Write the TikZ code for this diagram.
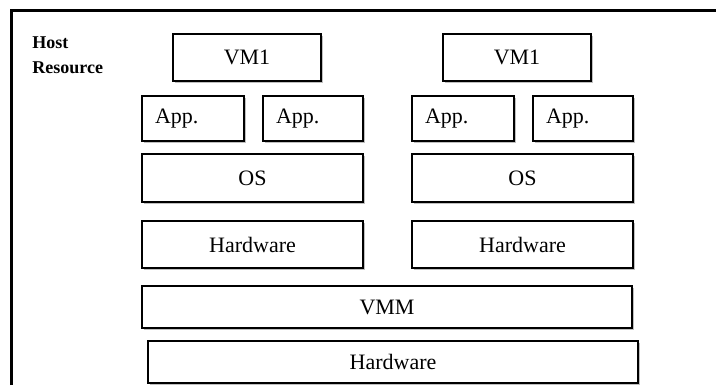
\documentclass[tikz,border=0pt]{standalone}
\usepackage{fontspec}
\setmainfont{Liberation Serif}
\usetikzlibrary{shadows}

\begin{document}
\begin{tikzpicture}[x=0.5pt, y=-0.5pt,
    layer/.style={draw, fill=white, line width=1pt, inner sep=0pt,
        font=\fontsize{11}{13}\selectfont,
        drop shadow={shadow xshift=0.8pt, shadow yshift=-0.8pt, opacity=0.25, fill=black}},
    appbox/.style={layer, text width=38pt, align=left, inner xsep=6.5pt, minimum height=22.5pt}]
    \useasboundingbox (0,0) rectangle (716,385);
    % Draw the frame
    \draw[line width=1.5pt] (11,385) -- (11,11) -- (716,11);
    \node[anchor=north west, align=left, inner sep=0pt, font=\bfseries\fontsize{9}{12.5}\selectfont] (host) at (32,36) {Host\\Resource};
    % Draw the two guest stacks
    \foreach \x [count=\i] in {142,412} {
        \node[layer, minimum width=74pt, minimum height=23.5pt] (vm\i) at (\x+105,57.5) {VM1};
        \node[appbox] (app\i a) at (\x+51,118.5) {App.};
        \node[appbox, text width=37pt] (app\i b) at (\x+171,118.5) {App.};
        \node[layer, minimum width=110.5pt, minimum height=24pt] (os\i) at (\x+110.5,178) {OS};
        \node[layer, minimum width=110.5pt, minimum height=23.5pt] (hw\i) at (\x+110.5,244.5) {Hardware};
    }
    % Add the host layers
    \node[layer, minimum width=245pt, minimum height=21pt] (vmm) at (387,307) {VMM};
    \node[layer, minimum width=245pt, minimum height=21pt] (hw) at (393,362) {Hardware};
\end{tikzpicture}
\end{document}
